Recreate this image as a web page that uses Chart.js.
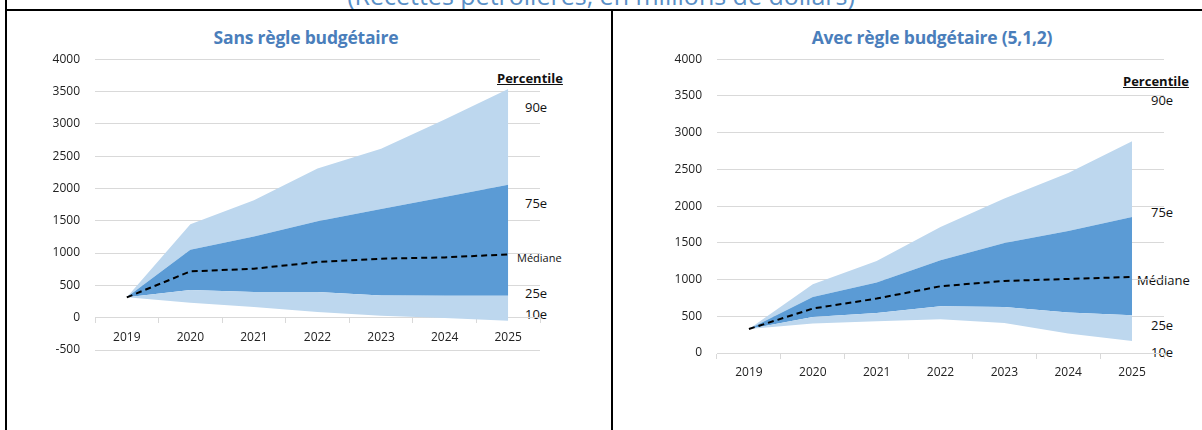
<!DOCTYPE html>
<html>
<head>
<meta charset="utf-8">
<script src="https://cdn.jsdelivr.net/npm/chart.js"></script>
<style>
  body { margin: 0; width: 1202px; height: 430px; overflow: hidden; background: #fff; position: relative; font-family: "Open Sans", sans-serif; }
  .line { position: absolute; background: #000; }
  .big { position: absolute; left: 0; width: 1202px; top: -17px; text-align: center; font-size: 25px; line-height: 1; color: #5a8fc6; white-space: nowrap; }
  .ttl { position: absolute; top: 27px; font-size: 17.5px; font-weight: 700; color: #4a7ebb; text-align: center; line-height: 20px; white-space: nowrap; letter-spacing: -0.2px; }
  .lbl { position: absolute; font-size: 13px; line-height: 14px; color: #111; white-space: nowrap; }
  .pct { font-weight: 700; text-decoration: underline; }
  canvas { position: absolute; }
</style>
</head>
<body>
<div class="big">(Recettes pétrolières, en millions de dollars)</div>
<div class="line" style="left:5px;top:9px;width:1197px;height:2px"></div>
<div class="line" style="left:5px;top:0;width:2px;height:430px"></div>
<div class="line" style="left:611px;top:9px;width:2px;height:421px"></div>

<div class="ttl" style="left:156px;width:300px">Sans règle budgétaire</div>
<div class="ttl" style="left:782px;width:300px">Avec règle budgétaire (5,1,2)</div>

<div class="lbl pct" style="left:497px;top:71px">Percentile</div>
<div class="lbl" style="left:525px;top:100px">90e</div>
<div class="lbl" style="left:525px;top:196px">75e</div>
<div class="lbl" style="left:517px;top:251px;font-size:11px">Médiane</div>
<div class="lbl" style="left:525px;top:286px">25e</div>
<div class="lbl" style="left:525px;top:307px">10e</div>

<div class="lbl pct" style="left:1123px;top:74px">Percentile</div>
<div class="lbl" style="left:1151px;top:93px">90e</div>
<div class="lbl" style="left:1151px;top:205px">75e</div>
<div class="lbl" style="left:1137px;top:273px">Médiane</div>
<div class="lbl" style="left:1151px;top:318px">25e</div>
<div class="lbl" style="left:1151px;top:345px">10e</div>

<canvas id="left" width="603" height="343" style="left:7px;top:37px;width:603px;height:343px"></canvas>
<canvas id="right" width="589" height="343" style="left:613px;top:37px;width:589px;height:343px"></canvas>

<script>
const years = ['2019', '2020', '2021', '2022', '2023', '2024', '2025'];

// Sans règle budgétaire
const sansP10 = [315, 232, 164, 87, 31, -6, -46];
const sansP25 = [315, 428, 397, 397, 345, 340, 340];
const sansMed = [315, 716, 758, 861, 913, 933, 980];
const sansP75 = [315, 1052, 1258, 1491, 1681, 1867, 2059];
const sansP90 = [315, 1444, 1816, 2307, 2616, 3065, 3539];

// Avec règle budgétaire (5,1,2)
const avecP10 = [327, 400, 432, 459, 409, 264, 164];
const avecP25 = [327, 490, 545, 636, 627, 550, 514];
const avecMed = [327, 605, 741, 909, 981, 1008, 1035];
const avecP75 = [327, 763, 959, 1263, 1499, 1662, 1853];
const avecP90 = [327, 936, 1253, 1717, 2103, 2452, 2884];

const lightBlue = '#bdd7ee';
const darkBlue = '#5b9bd5';
const gridCol = '#d9d9d9';

function band(data, fillCol) {
  return { data, fill: fillCol ? '-1' : false, backgroundColor: fillCol || 'transparent',
    borderWidth: 0, pointRadius: 0, tension: 0 };
}

function makeChart(id, p10, p25, med, p75, p90, yMin, pad, yWidth, labelPad) {
  new Chart(document.getElementById(id), {
    type: 'line',
    data: {
      labels: years,
      datasets: [
        { data: med, borderColor: '#000', borderWidth: 2, borderDash: [6, 4], pointRadius: 0, fill: false, tension: 0 },
        band(p10, null),
        band(p25, lightBlue),
        band(p75, darkBlue),
        band(p90, lightBlue)
      ]
    },
    options: {
      responsive: false,
      animation: false,
      layout: { padding: pad },
      plugins: { legend: { display: false }, tooltip: { enabled: false }, title: { display: false } },
      scales: {
        x: {
          position: { y: 0 },
          offset: true,
          grid: { display: true, drawOnChartArea: false, drawTicks: true, tickLength: 5, color: gridCol, offset: true },
          border: { display: true, color: gridCol, width: 1 },
          ticks: { color: '#222', font: { family: 'Open Sans', size: 12 }, padding: labelPad, maxRotation: 0 },
          afterFit: (s) => { s.height = 0; }
        },
        y: {
          min: yMin, max: 4000,
          grid: { color: gridCol, drawTicks: false, lineWidth: 1 },
          border: { display: false },
          ticks: { stepSize: 500, color: '#222', font: { family: 'Open Sans', size: 12 }, padding: 15,
            callback: (v) => String(v) },
          afterFit: (s) => { s.width = yWidth; }
        }
      }
    }
  });
}

makeChart('left', sansP10, sansP25, sansMed, sansP75, sansP90, -500,
  { top: 9, right: 70, bottom: 30, left: 0 }, 88, 8);
makeChart('right', avecP10, avecP25, avecMed, avecP75, avecP90, 0,
  { top: 9, right: 38, bottom: 27, left: 0 }, 104, 7);
</script>
</body>
</html>
